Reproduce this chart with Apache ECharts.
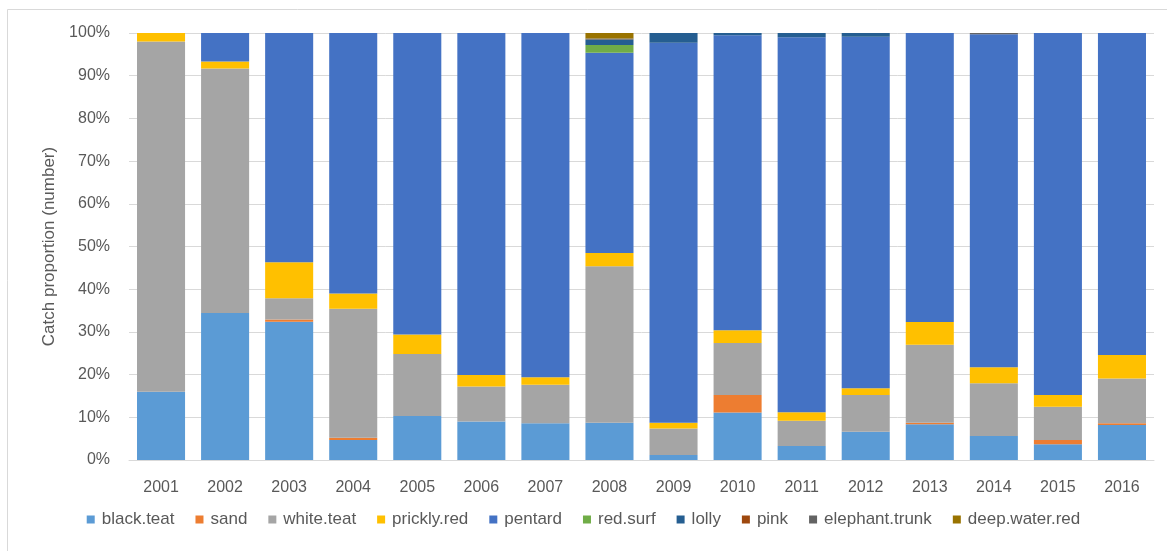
<!DOCTYPE html>
<html>
<head>
<meta charset="utf-8">
<script src="https://cdn.jsdelivr.net/npm/echarts@6/dist/echarts.min.js"></script>
<style>
  html, body { margin: 0; padding: 0; background: #ffffff; }
  #chart { width: 1167px; height: 551px; }
</style>
</head>
<body>
<div id="chart"></div>
<script>
// Catch composition by year, as a percentage of fish counted
const years = ['2001','2002','2003','2004','2005','2006','2007','2008','2009','2010','2011','2012','2013','2014','2015','2016'];

const blackTeat     = [16.0, 34.4, 32.4, 4.7, 10.3, 9.0, 8.6, 8.7, 1.2, 11.1, 3.3, 6.6, 8.4, 5.6, 3.7, 8.2];
const sand          = [0, 0, 0.5, 0.5, 0, 0, 0, 0, 0, 4.1, 0, 0, 0.3, 0, 1.0, 0.4];
const whiteTeat     = [82.0, 57.3, 5.0, 30.2, 14.5, 8.2, 9.0, 36.7, 6.2, 12.2, 5.9, 8.6, 18.3, 12.4, 7.8, 10.5];
const pricklyRed    = [2.0, 1.6, 8.4, 3.6, 4.6, 2.7, 1.8, 3.1, 1.3, 3.0, 2.0, 1.6, 5.3, 3.7, 2.7, 5.5];
const pentard       = [0, 6.7, 53.7, 61.0, 70.6, 80.1, 80.6, 46.9, 89.0, 69.1, 87.8, 82.3, 67.7, 78.0, 84.8, 75.4];
const redSurf       = [0, 0, 0, 0, 0, 0, 0, 1.8, 0, 0, 0, 0, 0, 0, 0, 0];
const lolly         = [0, 0, 0, 0, 0, 0, 0, 1.2, 2.3, 0.5, 1.0, 0.9, 0, 0, 0, 0];
const pink          = [0, 0, 0, 0, 0, 0, 0, 0, 0, 0, 0, 0, 0, 0, 0, 0];
const elephantTrunk = [0, 0, 0, 0, 0, 0, 0, 0.3, 0, 0, 0, 0, 0, 0.3, 0, 0];
const deepWaterRed  = [0, 0, 0, 0, 0, 0, 0, 1.3, 0, 0, 0, 0, 0, 0, 0, 0];

const yTicks = { min: 0, max: 100, step: 10 };

const seriesList = [
  { name: 'black.teat',     data: blackTeat,     color: '#5B9BD5' },
  { name: 'sand',           data: sand,          color: '#ED7D31' },
  { name: 'white.teat',     data: whiteTeat,     color: '#A5A5A5' },
  { name: 'prickly.red',    data: pricklyRed,    color: '#FFC000' },
  { name: 'pentard',        data: pentard,       color: '#4472C4' },
  { name: 'red.surf',       data: redSurf,       color: '#70AD47' },
  { name: 'lolly',          data: lolly,         color: '#255E91' },
  { name: 'pink',           data: pink,          color: '#9E480E' },
  { name: 'elephant.trunk', data: elephantTrunk, color: '#636363' },
  { name: 'deep.water.red', data: deepWaterRed,  color: '#997300' }
];

const FONT = "'Liberation Sans', Arial, sans-serif";
const TEXT = '#595959';

const chart = echarts.init(document.getElementById('chart'), null, { renderer: 'canvas' });

chart.setOption({
  animation: false,
  backgroundColor: '#ffffff',
  textStyle: { fontFamily: FONT, color: TEXT },
  graphic: [{
    type: 'rect',
    shape: { x: 7.5, y: 9.5, width: 1190, height: 580 },
    style: { fill: 'none', stroke: '#d9d9d9', lineWidth: 1 },
    silent: true
  }],
  grid: { left: 129, right: 13, top: 33, bottom: 91, containLabel: false },
  legend: {
    bottom: 18,
    left: 'center',
    itemWidth: 8,
    itemHeight: 8,
    itemGap: 21,
    icon: 'rect',
    textStyle: { fontFamily: FONT, fontSize: 17, color: TEXT, padding: [0, 0, 0, 2] },
    data: seriesList.map(s => s.name)
  },
  xAxis: {
    type: 'category',
    data: years,
    axisLine: { lineStyle: { color: '#d9d9d9' } },
    axisTick: { show: false },
    axisLabel: { fontFamily: FONT, fontSize: 16, color: TEXT, margin: 20 }
  },
  yAxis: {
    type: 'value',
    min: yTicks.min,
    max: yTicks.max,
    interval: yTicks.step,
    name: 'Catch proportion (number)',
    nameLocation: 'middle',
    nameGap: 71,
    nameTextStyle: { fontFamily: FONT, fontSize: 17, color: TEXT },
    axisLine: { show: false },
    axisTick: { show: false },
    splitLine: { lineStyle: { color: '#d9d9d9', width: 1 } },
    axisLabel: { formatter: '{value}%', fontFamily: FONT, fontSize: 16, color: TEXT, margin: 19 }
  },
  series: seriesList.map(s => ({
    name: s.name,
    type: 'bar',
    stack: 'total',
    barWidth: '75%',
    itemStyle: { color: s.color },
    data: s.data
  }))
});
</script>
</body>
</html>
